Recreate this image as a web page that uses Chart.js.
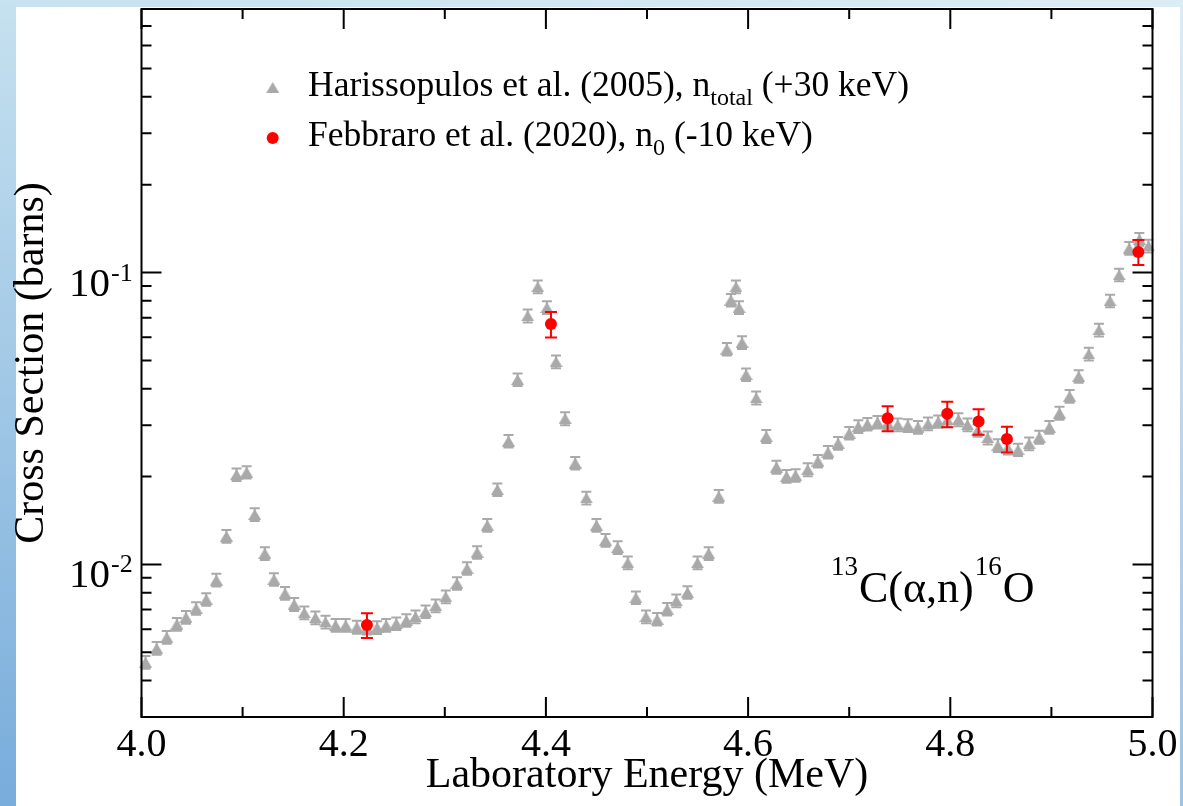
<!DOCTYPE html>
<html><head><meta charset="utf-8">
<script src="https://cdn.jsdelivr.net/npm/chart.js@4/dist/chart.umd.min.js"></script>
<style>html,body{margin:0;padding:0;background:#fff;overflow:hidden}canvas{display:block}</style>
</head><body><canvas id="c" width="1183" height="806"></canvas>
<script>
// ---------- data ----------
const harEnergy = [4.004,4.015,4.025,4.035,4.044,4.054,4.064,4.074,4.084,4.094,4.104,4.112,4.122,4.131,4.142,4.151,4.161,4.172,4.182,4.192,4.202,4.213,4.223,4.233,4.242,4.252,4.262,4.271,4.281,4.291,4.301,4.312,4.322,4.332,4.342,4.352,4.363,4.372,4.382,4.392,4.401,4.410,4.419,4.429,4.440,4.450,4.459,4.471,4.481,4.489,4.499,4.510,4.520,4.529,4.540,4.550,4.561,4.571,4.579,4.583,4.588,4.591,4.594,4.598,4.608,4.618,4.628,4.638,4.647,4.659,4.669,4.679,4.689,4.700,4.709,4.718,4.728,4.738,4.748,4.758,4.768,4.778,4.788,4.797,4.808,4.817,4.827,4.837,4.847,4.857,4.867,4.878,4.888,4.898,4.908,4.918,4.927,4.937,4.947,4.958,4.967,4.977,4.987,4.996];
const harXS = [0.00462,0.00516,0.00563,0.00624,0.00659,0.00707,0.00759,0.00884,0.01249,0.0203,0.0207,0.01483,0.01091,0.00889,0.00796,0.0073,0.00683,0.00657,0.00635,0.00619,0.00619,0.0061,0.00605,0.00608,0.00619,0.00627,0.00643,0.00662,0.00689,0.00722,0.00775,0.00861,0.00969,0.0110,0.01362,0.01805,0.02645,0.0430,0.0711,0.0894,0.0759,0.0495,0.0316,0.02225,0.01689,0.01362,0.0121,0.01143,0.01013,0.00769,0.00662,0.00649,0.00703,0.00751,0.00802,0.01013,0.01091,0.01712,0.0547,0.0805,0.0894,0.0759,0.0576,0.0447,0.0372,0.02745,0.02156,0.02004,0.0202,0.02113,0.0226,0.02426,0.02603,0.02817,0.0297,0.03024,0.03072,0.0305,0.0301,0.02992,0.02953,0.03034,0.03089,0.0313,0.03137,0.0301,0.02877,0.02716,0.02556,0.0251,0.02472,0.0259,0.02729,0.02953,0.0330,0.0377,0.0441,0.0526,0.0636,0.0800,0.0982,0.1212,0.130,0.1234];
const harErr = [0.00023,0.00026,0.00028,0.00031,0.00033,0.00035,0.00038,0.00044,0.00062,0.0010,0.0010,0.00074,0.00055,0.00044,0.00040,0.00037,0.00034,0.00033,0.00032,0.00031,0.00031,0.00031,0.00030,0.00030,0.00031,0.00031,0.00032,0.00033,0.00034,0.00036,0.00039,0.00043,0.00048,0.00055,0.00068,0.0009,0.0013,0.0021,0.0036,0.0045,0.0038,0.0025,0.0016,0.0011,0.00084,0.00068,0.0006,0.00057,0.00051,0.00038,0.00033,0.00032,0.00035,0.00038,0.0004,0.00051,0.00055,0.00086,0.0027,0.004,0.0045,0.0038,0.0029,0.0022,0.0019,0.0014,0.0011,0.001,0.001,0.0011,0.0011,0.0012,0.0013,0.0014,0.0015,0.0015,0.0015,0.0015,0.0015,0.0015,0.0015,0.0015,0.0015,0.0016,0.0016,0.0015,0.0014,0.0014,0.0013,0.0013,0.0012,0.0013,0.0014,0.0015,0.0017,0.0019,0.0022,0.0026,0.0032,0.004,0.0049,0.0061,0.0065,0.0062];
const febEnergy = [4.223,4.405,4.738,4.797,4.828,4.856,4.986];
const febXS = [0.0062,0.0666,0.0317,0.0328,0.0309,0.0269,0.1177];
const febErr = [0.0006,0.0067,0.0031,0.0033,0.0031,0.0027,0.0115];

const xTickValues = [4.0,4.2,4.4,4.6,4.8,5.0];
const xTickLabels = ['4.0','4.2','4.4','4.6','4.8','5.0'];
const xMinorTicks = [4.1,4.3,4.5,4.7,4.9];
const yTickValues = [0.01,0.1];
const yTickBase = ['10','10'];
const yTickExp = ['-2','-1'];
const yMinorTicks = [0.003,0.004,0.005,0.006,0.007,0.008,0.009,0.02,0.03,0.04,0.05,0.06,0.07,0.08,0.09,0.2,0.3,0.4,0.5,0.6,0.7,0.8];

const xTitle = 'Laboratory Energy (MeV)';
const yTitle = 'Cross Section (barns)';
const legendNames = ['Harissopulos et al. (2005), n','Febbraro et al. (2020), n'];
const legendSubs = ['total','0'];
const legendTails = [' (+30 keV)',' (-10 keV)'];
const reactionText = ['13','C(\u03B1,n)','16','O'];
const reactionIsSup = [true,false,true,false];

// ---------- styles ----------
const FONT = "'Liberation Serif','Times New Roman',serif";
const GRAY = '#a9a9a9';
const RED = '#ff0000';

function makeTriangle(w,h,color){
  const c=document.createElement('canvas');c.width=w;c.height=h;
  const g=c.getContext('2d');g.fillStyle=color;g.beginPath();
  g.moveTo(w/2,0);g.lineTo(w,h);g.lineTo(0,h);g.closePath();g.fill();return c;
}
const triImg = makeTriangle(13,11,GRAY);

const harData = harEnergy.map((e,i)=>({x:e,y:harXS[i]}));
const febData = febEnergy.map((e,i)=>({x:e,y:febXS[i]}));

function drawErrBars(chart, xs, ys, errs, color, half, lw){
  const {ctx, scales:{x,y}} = chart;
  ctx.save();ctx.strokeStyle=color;ctx.lineWidth=lw;ctx.beginPath();
  for(let i=0;i<xs.length;i++){
    const px=x.getPixelForValue(xs[i]);
    const pt=y.getPixelForValue(ys[i]+errs[i]);
    const pb=y.getPixelForValue(ys[i]-errs[i]);
    ctx.moveTo(px,pt);ctx.lineTo(px,pb);
    ctx.moveTo(px-half,pt);ctx.lineTo(px+half,pt);
    ctx.moveTo(px-half,pb);ctx.lineTo(px+half,pb);
  }
  ctx.stroke();ctx.restore();
}

const bgPlugin = {
  id:'bg',
  beforeDraw(chart){
    const ctx=chart.ctx;ctx.save();
    let g=ctx.createLinearGradient(0,0,0,806);g.addColorStop(0,'#c6e1ef');g.addColorStop(1,'#78acdb');
    ctx.fillStyle=g;ctx.fillRect(0,0,16,806);
    let g2=ctx.createLinearGradient(0,0,1183,0);g2.addColorStop(0,'#c6e1ef');g2.addColorStop(1,'#dcecf5');
    ctx.fillStyle=g2;ctx.fillRect(16,0,1167,7);
    let g3=ctx.createLinearGradient(0,0,0,806);g3.addColorStop(0,'#dcecf5');g3.addColorStop(1,'#9ec2e6');
    ctx.fillStyle=g3;ctx.fillRect(1180,7,3,799);
    ctx.fillStyle='#fff';ctx.fillRect(16,7,1164,799);
    ctx.restore();
  }
};

const errPlugin = {
  id:'errbars',
  beforeDatasetsDraw(chart){
    drawErrBars(chart,harEnergy,harXS,harErr,GRAY,5,2);
  },
  afterDatasetDraw(chart,args){
    if(args.index===1) drawErrBars(chart,febEnergy,febXS,febErr,RED,6,2);
  }
};

const framePlugin = {
  id:'frame',
  afterDatasetsDraw(chart){
    const {ctx, chartArea:a, scales:{x,y}} = chart;
    ctx.save();ctx.strokeStyle='#000';ctx.lineWidth=2;ctx.beginPath();
    const xt=(v,len)=>{const p=x.getPixelForValue(v);ctx.moveTo(p,a.bottom);ctx.lineTo(p,a.bottom-len);ctx.moveTo(p,a.top);ctx.lineTo(p,a.top+len);};
    const yt=(v,len)=>{const p=y.getPixelForValue(v);ctx.moveTo(a.left,p);ctx.lineTo(a.left+len,p);ctx.moveTo(a.right,p);ctx.lineTo(a.right-len,p);};
    xTickValues.forEach(v=>xt(v,20));xMinorTicks.forEach(v=>xt(v,10));
    yTickValues.forEach(v=>yt(v,20));yMinorTicks.forEach(v=>yt(v,10));
    ctx.stroke();
    ctx.strokeRect(a.left,a.top,a.right-a.left,a.bottom-a.top);
    ctx.restore();
  }
};

const textPlugin = {
  id:'texts',
  afterDraw(chart){
    const ctx=chart.ctx, y=chart.scales.y;ctx.save();ctx.fillStyle='#000';ctx.textBaseline='alphabetic';
    // y tick labels (10 with exponent) at the scale's own ticks
    y.ticks.forEach((t,i)=>{
      const p=y.getPixelForValue(t.value);
      ctx.textAlign='right';ctx.font='41px '+FONT;ctx.fillText(yTickBase[i],110,p+23);
      ctx.textAlign='left';ctx.font='26px '+FONT;ctx.fillText(yTickExp[i],111,p+8);
    });
    ctx.textAlign='left';
    // legend
    const mx=272.7, tx=308, base=[96,146], mk=[87.5,138];
    ctx.drawImage(triImg,mx-6.5,mk[0]-5.5);
    ctx.fillStyle=RED;ctx.beginPath();ctx.arc(mx,mk[1],6,0,Math.PI*2);ctx.fill();
    ctx.fillStyle='#000';
    for(let i=0;i<2;i++){
      let cx=tx;
      ctx.font='35.5px '+FONT;ctx.fillText(legendNames[i],cx,base[i]);cx+=ctx.measureText(legendNames[i]).width;
      ctx.font='24px '+FONT;ctx.fillText(legendSubs[i],cx,base[i]+9);cx+=ctx.measureText(legendSubs[i]).width;
      ctx.font='35.5px '+FONT;ctx.fillText(legendTails[i],cx,base[i]);
    }
    // reaction label
    let rx=831;
    for(let i=0;i<reactionText.length;i++){
      const sup=reactionIsSup[i];
      ctx.font=(sup?'27px ':'44px ')+FONT;
      ctx.fillText(reactionText[i],rx,sup?575:601.5);
      rx+=ctx.measureText(reactionText[i]).width+1;
    }
    ctx.restore();
  }
};

new Chart(document.getElementById('c'),{
  type:'scatter',
  data:{datasets:[
    {label:'Febbraro et al. (2020), n0 (-10 keV)',data:febData,pointStyle:'circle',pointRadius:6,pointHoverRadius:6,backgroundColor:RED,borderWidth:0,clip:false},
    {label:'Harissopulos et al. (2005), ntotal (+30 keV)',data:harData,pointStyle:triImg,pointRadius:6,pointHoverRadius:6,backgroundColor:GRAY,borderWidth:0,clip:false}
  ]},
  options:{
    responsive:false,animation:false,devicePixelRatio:1,
    layout:{padding:{left:0,top:9,right:30.5,bottom:0}},
    plugins:{legend:{display:false},tooltip:{enabled:false}},
    events:[],
    scales:{
      x:{type:'linear',position:'bottom',min:4,max:5,
        afterBuildTicks:s=>{s.ticks=xTickValues.map(v=>({value:v}));},
        afterFit:s=>{s.height=89;s.paddingLeft=0;s.paddingRight=0;},
        grid:{display:false,drawTicks:false},border:{display:false},
        ticks:{autoSkip:false,maxRotation:0,padding:8,color:'#000',font:{family:FONT,size:40,lineHeight:1},callback:(v,i)=>xTickLabels[i]},
        title:{display:true,text:xTitle,color:'#000',font:{family:FONT,size:42,lineHeight:1},padding:{top:0,bottom:9}}
      },
      y:{type:'logarithmic',position:'left',min:0.003,max:0.8,
        afterBuildTicks:s=>{s.ticks=yTickValues.map(v=>({value:v}));},
        afterFit:s=>{s.width=141.5;s.paddingTop=0;s.paddingBottom=0;},
        grid:{display:false,drawTicks:false},border:{display:false},
        ticks:{display:false},
        title:{display:true,text:yTitle,color:'#000',font:{family:FONT,size:42,lineHeight:1},padding:{top:10.7,bottom:0}}
      }
    }
  },
  plugins:[bgPlugin,errPlugin,framePlugin,textPlugin]
});
</script></body></html>
